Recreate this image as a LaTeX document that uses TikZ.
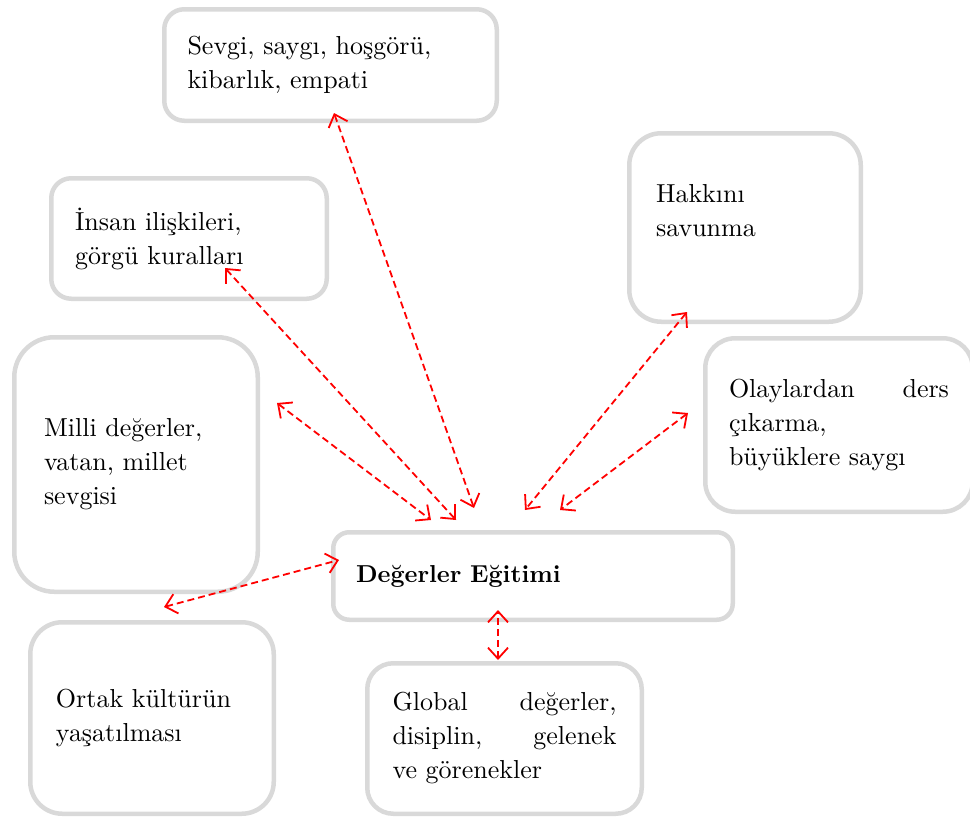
\documentclass[tikz,border=0pt]{standalone}
\usepackage{fontspec}
\setmainfont{lmroman10-regular.otf}[BoldFont=lmroman10-bold.otf]
\usetikzlibrary{arrows.meta}
\begin{document}
\begin{tikzpicture}[x=1pt, y=-1pt,
    box/.style={draw=gray!30, line width=4.5pt, inner xsep=0pt, inner ysep=0pt, align=left, font=\fontsize{26}{34}\selectfont},
    link/.style={red, line width=1.8pt, dash pattern=on 7pt off 4pt, {Straight Barb[length=11pt,width=20pt,line width=1.8pt]}-{Straight Barb[length=11pt,width=20pt,line width=1.8pt]}}]
    \useasboundingbox (0,0) rectangle (970,819);
    % boxes
    \node[box, rounded corners=20pt, minimum width=332.5pt, minimum height=111.5pt, text width=286pt] (sevgi) at (330.5,65) {Sevgi, saygı, hoşgörü,\\ kibarlık, empati};
    \node[box, rounded corners=20pt, minimum width=275.5pt, minimum height=120.5pt, text width=228pt] (insan) at (189,238.5) {İnsan ilişkileri,\\ görgü kuralları};
    \node[box, rounded corners=32pt, minimum width=231.5pt, minimum height=188.5pt, text width=178pt] (hakki) at (745,227.5) {Hakkını\\ savunma\\ \mbox{}};
    \node[box, rounded corners=40pt, minimum width=243.5pt, minimum height=254.5pt, text width=184pt] (milli) at (136,464.5) {Milli değerler,\\ vatan, millet\\ sevgisi};
    \node[box, rounded corners=30pt, minimum width=267.5pt, minimum height=173.5pt, text width=220pt] (olay) at (839,425) {Olaylardan\hfill ders\\ çıkarma,\\ büyüklere saygı};
    \node[box, rounded corners=16pt, minimum width=399.5pt, minimum height=87.5pt, text width=354pt] (merkez) at (533,576) {\fontsize{24.5}{34}\selectfont\bfseries Değerler Eğitimi};
    \node[box, rounded corners=32pt, minimum width=243.5pt, minimum height=191.5pt, text width=192pt] (ortak) at (152,718) {Ortak kültürün\\ yaşatılması};
    \node[box, rounded corners=26pt, minimum width=274.5pt, minimum height=150.5pt, text width=224pt] (global) at (504.5,738.5) {Global\hfill değerler,\\ disiplin,\hfill gelenek\\ ve görenekler};
    % arrow ends
    \coordinate (sevgi-a) at (334,113);  \coordinate (sevgi-b) at (474,508);
    \coordinate (insan-a) at (225,268);  \coordinate (insan-b) at (456,520);
    \coordinate (milli-a) at (277,403);  \coordinate (milli-b) at (431,520);
    \coordinate (hakki-a) at (687,312);  \coordinate (hakki-b) at (525,510);
    \coordinate (olay-a) at (688,413);   \coordinate (olay-b) at (560,510);
    \coordinate (ortak-a) at (164,607);  \coordinate (ortak-b) at (339,560);
    \coordinate (global-a) at (498,660); \coordinate (global-b) at (498,610);
    \foreach \n in {sevgi,insan,milli,hakki,olay,ortak,global} {
        \draw[link] (\n-a) -- (\n-b);
    }
\end{tikzpicture}
\end{document}
